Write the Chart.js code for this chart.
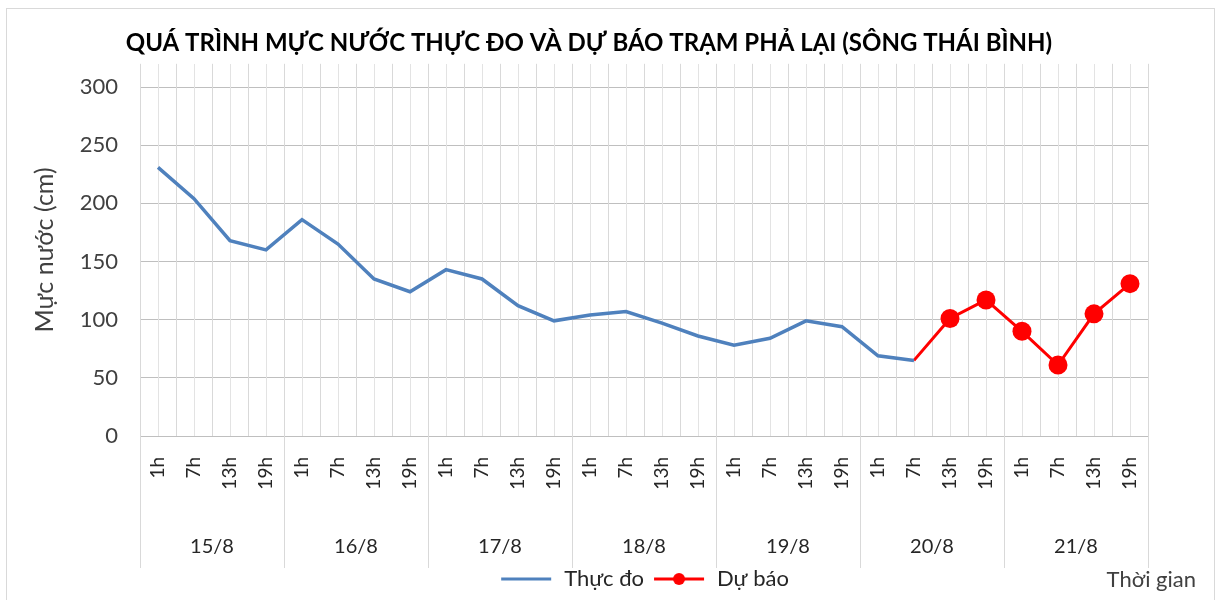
<!DOCTYPE html>
<html>
<head>
<meta charset="utf-8">
<script src="https://cdn.jsdelivr.net/npm/chart.js@4.4.1/dist/chart.umd.min.js"></script>
<style>
  html, body { margin: 0; padding: 0; background: #fff; }
  #vien { position: absolute; left: 6px; top: 8px; width: 1209px; height: 600px; border: 1px solid #d9d9d9; box-sizing: border-box; }
  #khung { position: absolute; left: 0; top: 0; width: 1223px; height: 600px; }
</style>
</head>
<body>
<div id="vien"></div>
<div id="khung"><canvas id="bieuDo"></canvas></div>
<script>
// Số liệu (cm)
const ngay = ['15/8', '16/8', '17/8', '18/8', '19/8', '20/8', '21/8'];
const gio = ['1h', '7h', '13h', '19h'];
const thucDo = [231, 204, 168, 160, 186, 165, 135, 124, 143, 135, 112, 99,
                104, 107, 97, 86, 78, 84, 99, 94, 69, 65,
                null, null, null, null, null, null];
const duBao = [null, null, null, null, null, null, null, null, null, null, null, null,
               null, null, null, null, null, null, null, null, null, 65,
               101, 117, 90, 61, 105, 131];
const mocTrucY = [0, 50, 100, 150, 200, 250, 300];

// nhãn giờ cho từng mốc (ngày x giờ)
const danhMuc = [];
ngay.forEach(function() { gio.forEach(function(h) { danhMuc.push(h); }); });

const phongChu = 'Lato, "Open Sans", sans-serif';

// mẫu chú giải: đường kẻ, có hoặc không có chấm tròn
function taoMau(mau, coCham) {
    const c = document.createElement('canvas');
    c.width = 54; c.height = 18;
    const g = c.getContext('2d');
    g.strokeStyle = mau; g.lineWidth = 3;
    g.beginPath(); g.moveTo(2, 9); g.lineTo(52, 9); g.stroke();
    if (coCham) {
        g.fillStyle = mau;
        g.beginPath(); g.arc(27, 9, 6, 0, Math.PI * 2); g.fill();
    }
    return c;
}
const mauChuGiai = [taoMau('#4f81bd', false), taoMau('#ff0000', true)];

// vạch phân cách ngày dưới trục hoành và chữ "Thời gian"
const vachNgay = {
    id: 'vachNgay',
    afterDraw(chart) {
        const ctx = chart.ctx;
        const d = chart.scales.xd;
        ctx.save();
        ctx.strokeStyle = '#d9d9d9';
        ctx.lineWidth = 1;
        for (let i = 0; i <= ngay.length; i++) {
            const px = Math.round(d.getPixelForValue(i - 0.5)) + 0.5;
            ctx.beginPath();
            ctx.moveTo(px, chart.chartArea.bottom);
            ctx.lineTo(px, d.bottom + 8);
            ctx.stroke();
        }
        const lg = chart.legend;
        ctx.fillStyle = '#404040';
        ctx.font = '22px ' + phongChu;
        ctx.textAlign = 'right';
        ctx.textBaseline = 'middle';
        ctx.fillText('Thời gian', chart.chartArea.right + 48, (lg.top + lg.bottom) / 2);
        ctx.restore();
    }
};

const ctx = document.getElementById('bieuDo').getContext('2d');
const bieuDo = new Chart(ctx, {
    type: 'line',
    data: {
        labels: danhMuc,
        datasets: [{
            label: 'Thực đo',
            data: thucDo,
            borderColor: '#4f81bd',
            backgroundColor: '#4f81bd',
            borderWidth: 3.5,
            pointRadius: 0,
            tension: 0
        }, {
            label: 'Dự báo',
            data: duBao,
            borderColor: '#ff0000',
            backgroundColor: '#ff0000',
            borderWidth: 3,
            pointRadius: function(c) { return c.dataIndex === 21 ? 0 : 9.5; },
            pointBorderWidth: 0,
            tension: 0
        }]
    },
    options: {
        responsive: true,
        maintainAspectRatio: false,
        animation: false,
        layout: { padding: { left: 30, right: 75, top: 0, bottom: 0 } },
        scales: {
            y: {
                min: 0,
                max: 320,
                afterBuildTicks: function(scale) {
                    scale.ticks = mocTrucY.map(function(v) { return { value: v }; });
                },
                afterFit: function(scale) { scale.width = 110; },
                grid: { color: '#bfbfbf', drawTicks: false },
                border: { display: false },
                ticks: { padding: 22, color: '#404040', font: { family: phongChu, size: 22 } },
                title: {
                    display: true,
                    text: 'Mực nước (cm)',
                    color: '#404040',
                    font: { family: phongChu, size: 25 },
                    padding: 0
                }
            },
            x: {
                offset: true,
                afterFit: function(scale) { scale.height = 68; },
                grid: { offset: true, color: '#d9d9d9', drawTicks: false },
                border: { display: false },
                ticks: {
                    autoSkip: false,
                    minRotation: 90,
                    maxRotation: 90,
                    padding: 21,
                    color: '#262626',
                    font: { family: phongChu, size: 19 }
                }
            },
            xg: {
                type: 'category',
                position: 'top',
                labels: danhMuc,
                offset: true,
                grid: { offset: false, color: '#e3e3e3', drawTicks: false },
                border: { display: false },
                ticks: { display: false, autoSkip: false }
            },
            xd: {
                type: 'category',
                position: 'bottom',
                labels: ngay,
                offset: true,
                afterFit: function(scale) { scale.height = 56; },
                grid: { display: false, drawTicks: false },
                border: { display: false },
                ticks: { padding: 31, color: '#262626', font: { family: phongChu, size: 20 } }
            }
        },
        plugins: {
            title: {
                display: true,
                text: 'QUÁ TRÌNH MỰC NƯỚC THỰC ĐO VÀ DỰ BÁO TRẠM PHẢ LẠI (SÔNG THÁI BÌNH)',
                color: '#000',
                font: { family: phongChu, size: 24, weight: 'bold' },
                padding: { top: 29, bottom: 6 }
            },
            legend: {
                position: 'bottom',
                fullSize: false,
                labels: {
                    usePointStyle: true,
                    pointStyleWidth: 54,
                    boxHeight: 18,
                    padding: 8,
                    color: '#262626',
                    font: { family: phongChu, size: 22 },
                    generateLabels: function(chart) {
                        const arr = Chart.defaults.plugins.legend.labels.generateLabels(chart);
                        arr.forEach(function(l, i) { l.pointStyle = mauChuGiai[i]; });
                        return arr;
                    }
                }
            },
            tooltip: { enabled: false }
        }
    },
    plugins: [vachNgay]
});
</script>
</body>
</html>
